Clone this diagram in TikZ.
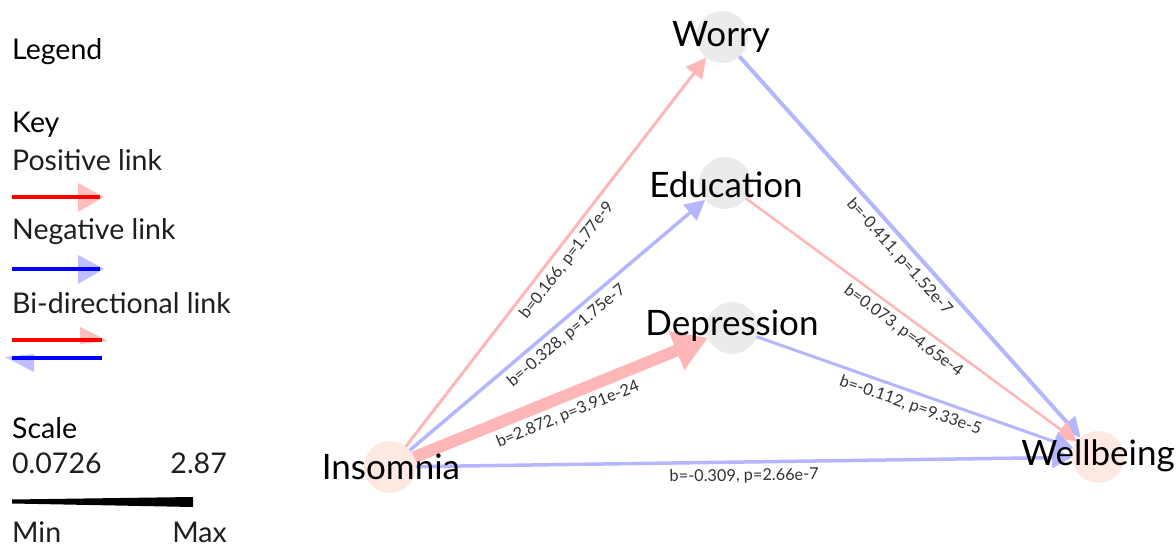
\documentclass[tikz,border=0pt]{standalone}
\usepackage{fontspec}
\setmainfont{Lato}
\usetikzlibrary{arrows.meta}
\definecolor{nodegrey}{RGB}{235,235,235}
\definecolor{nodepink}{RGB}{253,233,226}
\definecolor{txt}{RGB}{30,30,30}
\definecolor{lbl}{RGB}{50,50,50}
\definecolor{posc}{RGB}{255,182,182}
\definecolor{negc}{RGB}{182,182,255}
\tikzset{
  circ/.style={circle, minimum size=52pt, inner sep=0pt, outer sep=0pt},
  greyc/.style={circ, fill=nodegrey},
  pinkc/.style={circ, fill=nodepink},
  nlabel/.style={font=\fontsize{35}{35}\selectfont, text=black, inner sep=0pt},
  posedge/.style={draw=posc, line width=3.5pt, -{Triangle[length=20pt,width=20pt]}},
  negedge/.style={draw=negc, line width=3.5pt, -{Triangle[length=20pt,width=20pt]}},
  elabel/.style={font=\fontsize{16.3}{16.3}\selectfont, text=lbl, sloped, midway, below, inner sep=5pt},
  legtext/.style={font=\fontsize{28.5}{28.5}\selectfont, text=txt, anchor=west, inner sep=0pt},
  leghead/.style={font=\fontsize{28.5}{28.5}\selectfont, text=black, anchor=west, inner sep=0pt}
}
\begin{document}
\begin{tikzpicture}[x=1pt,y=-1pt]
\useasboundingbox (0,0) rectangle (1176,548);

% legend
\node[leghead] (lg) at (12,52) {Legend};
\node[leghead] (key) at (12,125) {Key};
\node[legtext] (pl) at (12,160) {Positive link};
\fill[red, opacity=0.25] (78,183) -- (104,197) -- (78,212) -- cycle;
\draw[red, line width=4pt] (12,197) -- (100,197);
\node[legtext] (nl) at (12,232) {Negative link};
\fill[blue, opacity=0.25] (78,255) -- (104,269) -- (78,284) -- cycle;
\draw[blue, line width=4pt] (12,269) -- (100,269);
\node[legtext] (bl) at (12,303) {Bi-directional link};
\fill[red, opacity=0.25] (80,327) -- (108,341) -- (80,344) -- cycle;
\draw[red, line width=4pt] (12,340) -- (102,340);
\fill[blue, opacity=0.25] (34,354) -- (5,357) -- (34,372) -- cycle;
\draw[blue, line width=4pt] (12,358) -- (102,358);
\node[leghead] (sc) at (12,428) {Scale};
\node[legtext] (mn) at (12,463) {0.0726};
\node[legtext, anchor=east] (mx) at (227,463) {2.87};
\fill[black] (12,499.5) -- (193,497) -- (193,507) -- (12,503.5) -- cycle;
\node[legtext] (mnl) at (12,532) {Min};
\node[legtext, anchor=east] (mxl) at (227,532) {Max};

% nodes
\node[greyc] (wor) at (722,37) {};
\node[greyc] (edu) at (725,183) {};
\node[greyc] (dep) at (732,328) {};
\node[pinkc] (ins) at (390,467) {};
\node[pinkc] (wel) at (1098,457) {};

% edges
\draw[posedge, line width=3pt] (ins) -- node[elabel] {b=0.166, p=1.77e-9} (wor);
\draw[negedge] (ins) -- node[elabel] {b=-0.328, p=1.75e-7} (edu);
\draw[posedge, line width=12pt, -{Triangle[length=34pt,width=40pt]}] (ins) -- node[elabel] {b=2.872, p=3.91e-24} (dep);
\draw[negedge] (ins) -- node[elabel] {b=-0.309, p=2.66e-7} (wel);
\draw[negedge, line width=4pt] (wor) -- node[elabel] {b=-0.411, p=1.52e-7} (wel);
\draw[posedge, line width=2.5pt] (edu) -- node[elabel] {b=0.073, p=4.65e-4} (wel);
\draw[negedge, line width=3pt] (dep) -- node[elabel] {b=-0.112, p=9.33e-5} (wel);

% node labels
\node[nlabel] (worL) at (721,37) {Worry};
\node[nlabel] (eduL) at (726,185) {Education};
\node[nlabel] (depL) at (732,326) {Depression};
\node[nlabel] (insL) at (391,467) {Insomnia};
\node[nlabel] (welL) at (1098,456) {Wellbeing};
\end{tikzpicture}
\end{document}
